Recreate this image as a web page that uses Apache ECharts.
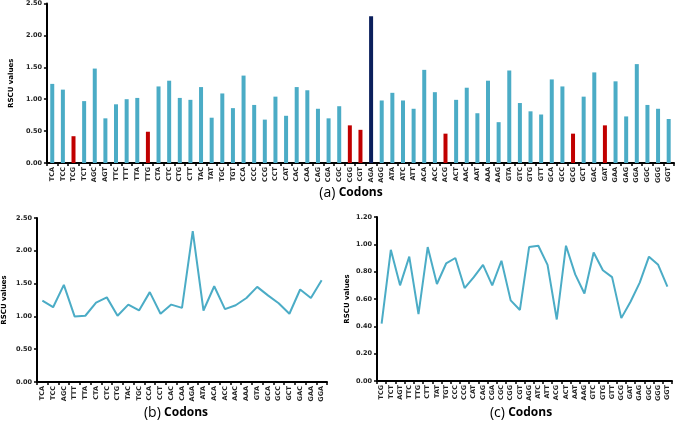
<!DOCTYPE html>
<html>
<head>
<meta charset="utf-8">
<script src="https://cdn.jsdelivr.net/npm/echarts@6/dist/echarts.min.js"></script>
<style>html,body{margin:0;padding:0;background:#fff}#c{width:676px;height:422px}</style>
</head>
<body>
<div id="c"></div>
<script>
// Panel (a): all codons
const codonsA = ['TCA','TCC','TCG','TCT','AGC','AGT','TTC','TTT','TTA','TTG','CTA','CTC','CTG','CTT','TAC','TAT','TGC','TGT','CCA','CCC','CCG','CCT','CAT','CAC','CAA','CAG','CGA','CGC','CGG','CGT','AGA','AGG','ATA','ATC','ATT','ACA','ACC','ACG','ACT','AAC','AAT','AAA','AAG','GTA','GTC','GTG','GTT','GCA','GCC','GCG','GCT','GAC','GAT','GAA','GAG','GGA','GGC','GGG','GGT'];
const rscuA = [1.24,1.15,0.42,0.97,1.48,0.70,0.92,1.00,1.02,0.49,1.20,1.29,1.02,0.99,1.19,0.71,1.09,0.86,1.37,0.91,0.68,1.04,0.74,1.19,1.14,0.85,0.70,0.89,0.59,0.52,2.30,0.98,1.10,0.98,0.85,1.46,1.11,0.46,0.99,1.18,0.78,1.29,0.64,1.45,0.94,0.81,0.76,1.31,1.20,0.46,1.04,1.42,0.59,1.28,0.73,1.55,0.91,0.85,0.69];
const redCodons = ['TCG','TTG','CGG','CGT','ACG','GCG','GAT'];
const navyCodons = ['AGA'];
// Panel (b): RSCU >= 1
const codonsB = ['TCA','TCC','AGC','TTT','TTA','CTA','CTC','CTG','TAC','TGC','CCA','CCT','CAC','CAA','AGA','ATA','ACA','ACC','AAC','AAA','GTA','GCA','GCC','GCT','GAC','GAA','GGA'];
const rscuB = [1.24,1.14,1.48,1.00,1.01,1.21,1.29,1.01,1.18,1.09,1.37,1.04,1.18,1.13,2.30,1.09,1.46,1.11,1.17,1.28,1.45,1.32,1.20,1.04,1.41,1.28,1.55];
// Panel (c): RSCU < 1
const codonsC = ['TCG','TCT','AGT','TTC','TTG','CTT','TAT','TGT','CCC','CCG','CAT','CAG','CGA','CGC','CGG','CGT','AGG','ATC','ATT','ACG','ACT','AAT','AAG','GTC','GTG','GTT','GCG','GAT','GAG','GGC','GGG','GGT'];
const rscuC = [0.42,0.96,0.70,0.91,0.49,0.98,0.71,0.86,0.90,0.68,0.76,0.85,0.70,0.88,0.59,0.52,0.98,0.99,0.85,0.45,0.99,0.78,0.64,0.94,0.81,0.76,0.46,0.58,0.72,0.91,0.85,0.69];
const panelTitles = ['(a)','(b)','(c)'];
const axisTitle = 'Codons';

const FONT = 'DejaVu Sans';
const BLUE = '#4BACC6', RED = '#C00000', NAVY = '#0B1F5C';

function xAx(gi, cats){
  return {type:'category', gridIndex:gi, data:cats, boundaryGap:true,
    axisLine:{lineStyle:{color:'#000', width:2}},
    axisTick:{show:true, length:3, lineStyle:{color:'#000', width:1.5}},
    axisLabel:{rotate:90, interval:0, fontSize:6.5, fontWeight:'bold', fontFamily:FONT, color:'#222', margin:4}};
}
function yAx(gi, max, step, nameX){
  return {type:'value', gridIndex:gi, min:0, max:max, interval:step,
    name:'RSCU values', nameLocation:'middle', nameRotate:90, nameGap:nameX,
    nameTextStyle:{fontSize:7, fontWeight:'bold', fontFamily:FONT, color:'#000'},
    splitLine:{show:false},
    axisLine:{show:true, lineStyle:{color:'#000', width:2}},
    axisTick:{show:true, length:3, lineStyle:{color:'#000', width:1.5}},
    axisLabel:{formatter:v=>v.toFixed(2), fontSize:6.5, fontWeight:'bold', fontFamily:FONT, color:'#222', margin:5}};
}
const rich = {
  a:{fontSize:14, fontFamily:'Open Sans', fill:'#000'},
  b:{fontSize:12, fontWeight:'bold', fontFamily:'Open Sans', fill:'#000'}
};
function titleText(i, x, y){
  return {type:'text', x:x, y:y, style:{text:'{a|'+panelTitles[i]+'} {b|'+axisTitle+'}', rich:rich, align:'center', verticalAlign:'middle'}};
}
const chart = echarts.init(document.getElementById('c'), null, {renderer:'canvas'});
chart.setOption({
  animation:false,
  backgroundColor:'#fff',
  grid:[
    {left:35, top:3, width:639, height:160},
    {left:35, top:218, width:292, height:164},
    {left:377, top:217, width:295, height:164}
  ],
  graphic:[titleText(0, 351, 193), titleText(1, 176, 413), titleText(2, 521, 413)],
  xAxis:[xAx(0, codonsA), xAx(1, codonsB), xAx(2, codonsC)],
  yAxis:[yAx(0, 2.5, 0.5, 29), yAx(1, 2.5, 0.5, 29), yAx(2, 1.2, 0.2, 26)],
  series:[
    {type:'bar', xAxisIndex:0, yAxisIndex:0, data:rscuA, barWidth:4,
      itemStyle:{color:p=> navyCodons.includes(codonsA[p.dataIndex]) ? NAVY : (redCodons.includes(codonsA[p.dataIndex]) ? RED : BLUE)}},
    {type:'line', xAxisIndex:1, yAxisIndex:1, data:rscuB, symbol:'none', lineStyle:{color:BLUE, width:2}},
    {type:'line', xAxisIndex:2, yAxisIndex:2, data:rscuC, symbol:'none', lineStyle:{color:BLUE, width:2}}
  ]
});
</script>
</body>
</html>
